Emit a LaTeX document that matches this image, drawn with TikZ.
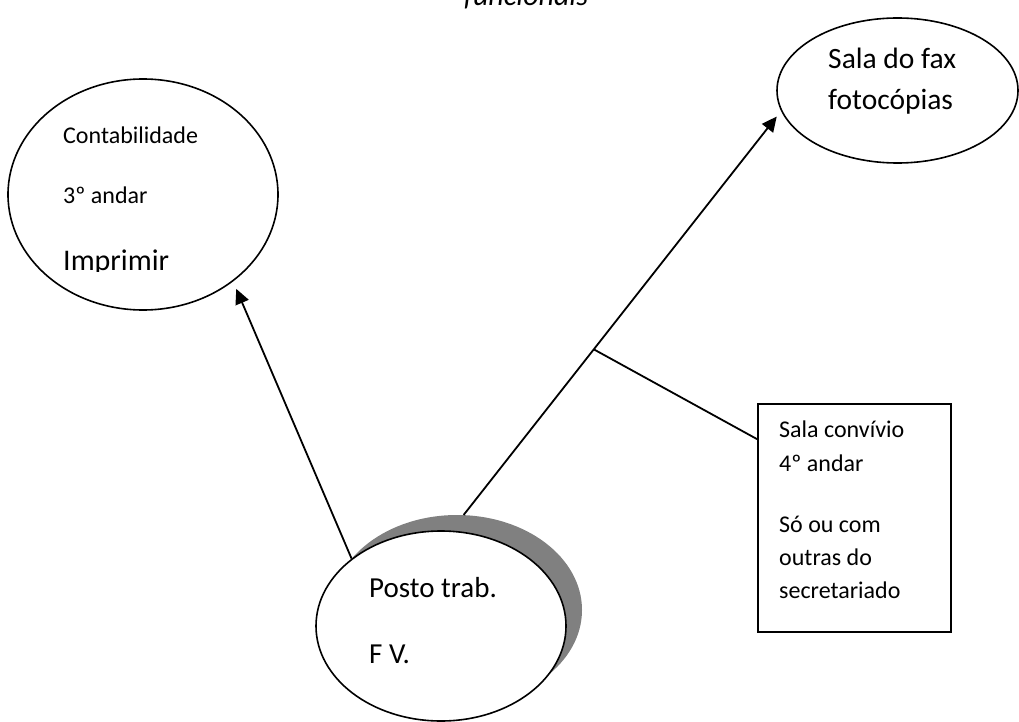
\documentclass[tikz,border=0pt]{standalone}
\usepackage{fontspec}
\setmainfont{Carlito}
\usetikzlibrary{shapes.geometric,arrows.meta}

\begin{document}
\begin{tikzpicture}[x=1pt,y=-1pt,
  bubble/.style={ellipse,draw,line width=1.6pt,inner sep=0pt,fill=white},
  link/.style={line width=1.8pt},
  arrow/.style={link,-{Triangle[length=15pt,width=14pt]}},
  txt/.style={anchor=base west,inner sep=0pt},
  small/.style={font=\fontsize{24pt}{29pt}\selectfont},
  large/.style={font=\fontsize{29pt}{35pt}\selectfont},
  medium/.style={font=\fontsize{29.5pt}{35pt}\selectfont}]
\useasboundingbox (0,0) rectangle (1019,722);

% heading, mostly above the page
\node[anchor=base,inner sep=0pt,font=\itshape\fontsize{30pt}{36pt}\selectfont] (title) at (526,6) {funcionais};

% Contabilidade
\node[bubble,minimum width=270pt,minimum height=231pt] (conta) at (143,194.5) {};
\node[txt,small] (c1) at (63,144) {Contabilidade};
\node[txt,small] (c2) at (63,204) {3º andar};
\begin{scope}
  \clip (0,0) rectangle (300,271);
  \node[txt,font=\fontsize{30pt}{36pt}\selectfont] (c3) at (63,270) {Imprimir};
\end{scope}

% Sala do fax
\node[bubble,minimum width=241pt,minimum height=145pt] (sala) at (897.5,90.5) {};
\node[txt,medium] (s1) at (828,69) {Sala do fax};
\node[txt,medium] (s2) at (828,110) {fotocópias};

% Posto de trabalho with its shadow
\node[ellipse,fill=gray,inner sep=0pt,minimum width=250pt,minimum height=190pt] (shade) at (457,610) {};
\node[bubble,minimum width=250pt,minimum height=190pt] (posto) at (441,626) {};
\node[txt,large] (p1) at (369,597) {Posto trab.};
\node[txt,large] (p2) at (369,663) {F V.};

% Sala convivio
\node[draw,line width=1.6pt,minimum width=193pt,minimum height=228pt,inner sep=0pt] (box) at (854.5,518) {};
\node[txt,small] (b1) at (779,437) {Sala convívio};
\node[txt,small] (b2) at (779,471) {4º andar};
\node[txt,small] (b3) at (779,532) {Só ou com};
\node[txt,small] (b4) at (779,565) {outras do};
\node[txt,small] (b5) at (779,598) {secretariado};

% connectors
\draw[arrow,shorten >=8pt] (posto.143.4) -- (conta.-44);
\draw[arrow,shorten >=7pt] (shade.86.2) -- coordinate[pos=0.41] (branch) (sala.190);
\draw[link] (branch) -- (box.141.8);
\end{tikzpicture}
\end{document}
